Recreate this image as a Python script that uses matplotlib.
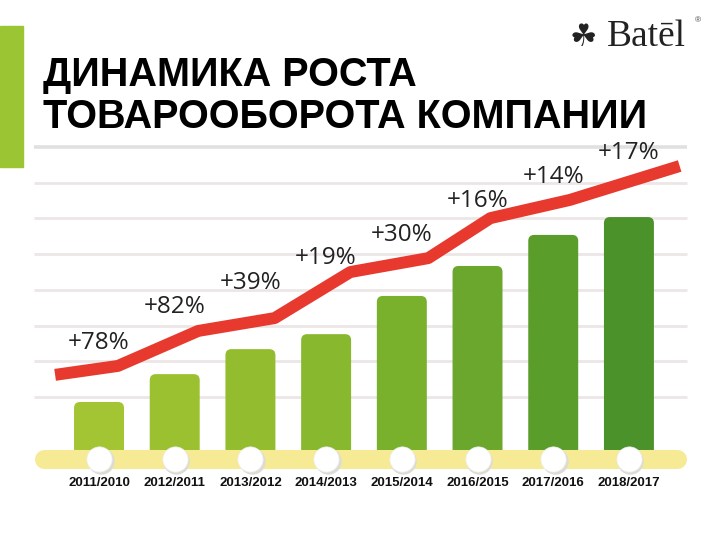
import numpy as np
import matplotlib.pyplot as plt
from matplotlib.patches import FancyBboxPatch

# Динамика роста товарооборота компании (Batēl)

periods = ["2011/2010", "2012/2011", "2013/2012", "2014/2013",
           "2015/2014", "2016/2015", "2017/2016", "2018/2017"]
growth = ["+78%", "+82%", "+39%", "+19%", "+30%", "+16%", "+14%", "+17%"]

# высота столбиков (условные единицы, одна линия сетки = 1)
turnover = np.array([0.86, 1.64, 2.34, 2.76, 3.83, 4.67, 5.54, 6.04])

# красная линия тренда
trend_x = np.array([-0.58, 0.25, 1.31, 2.32, 3.32, 4.35, 5.17, 6.22, 7.67])
trend_y = np.array([1.62, 1.87, 2.85, 3.21, 4.50, 4.89, 6.01, 6.52, 7.47])

# положение подписей процентов
label_y = np.array([2.51, 3.52, 4.19, 4.89, 5.54, 6.49, 7.16, 7.83])

bar_colors = ["#a3c533", "#9cc130", "#93bd2f", "#88b82d",
              "#79b02c", "#6aa72c", "#5a9d2b", "#4b922a"]

plt.rcParams['font.family'] = ['Liberation Sans', 'DejaVu Sans']

fig = plt.figure(figsize=(7.2, 5.4), dpi=100)
ax = fig.add_axes([0, 0, 1, 1])
ax.set_xlim(-1.308, 8.203)
ax.set_ylim(-3.006, 12.12)
ax.axis("off")

x = np.arange(len(periods))
base = -0.74

# сетка
grid_y = np.arange(1, 9)
ax.hlines(grid_y[:-1], -0.86, 7.77, color="#ece6e6", lw=2.0, zorder=1)
ax.hlines(grid_y[-1], -0.86, 7.77, color="#e0e0e0", lw=2.6, zorder=1)

# столбики со скруглёнными углами
w = 0.66
for xi, h, c in zip(x, turnover, bar_colors):
    p = FancyBboxPatch((xi - w / 2, base), w, h - base,
                       boxstyle="round,pad=0,rounding_size=0.08",
                       mutation_aspect=2.1, fc=c, ec="none", zorder=2)
    ax.add_patch(p)

# жёлтая полоса и кружки
ax.plot([-0.73, 7.64], [base, base], color="#f6ea95", lw=13.7,
        solid_capstyle="round", zorder=3)
ax.scatter(x + 0.02, np.full(len(x), base - 0.04), s=360, color="#dcdcd4",
           zorder=4, linewidths=0)
ax.scatter(x, np.full(len(x), base), s=330, color="white",
           edgecolors="#eeeeee", linewidths=0.5, zorder=5)

# линия роста
ax.plot(trend_x, trend_y, color="#e8392f", lw=8.6, solid_capstyle="butt",
        solid_joinstyle="round", zorder=6)

# подписи
for xi, yi, s in zip(x, label_y, growth):
    ax.text(xi, yi, s, ha="center", va="center", fontsize=17.5,
            family=["Open Sans", "DejaVu Sans"], color="#222222", zorder=7)

for xi, s in zip(x, periods):
    ax.text(xi, -1.41, s, ha="center", va="center", fontsize=9.5,
            fontweight="bold", color="#111111")

# зелёная полоса слева и заголовок
fig.patches.append(plt.Rectangle((0, 1 - 167 / 540), 23 / 720, 141 / 540,
                                 transform=fig.transFigure,
                                 color="#9cc534", zorder=0))
fig.text(43 / 720, 1 - 128 / 540, "ДИНАМИКА РОСТА\nТОВАРООБОРОТА КОМПАНИИ",
         fontsize=28.5, fontweight="bold", color="black", va="baseline",
         linespacing=1.12)

# логотип
fig.text(570 / 720, 1 - 46 / 540, "☘", fontsize=22,
         family=["DejaVu Sans"], color="#222222", va="baseline")
fig.text(607 / 720, 1 - 46 / 540, "Batēl", fontsize=27,
         family=["Liberation Serif", "DejaVu Serif"], color="#222222",
         va="baseline")
fig.text(695 / 720, 1 - 22 / 540, "®", fontsize=6, color="#444444")

fig.savefig("out.png", dpi=100)
